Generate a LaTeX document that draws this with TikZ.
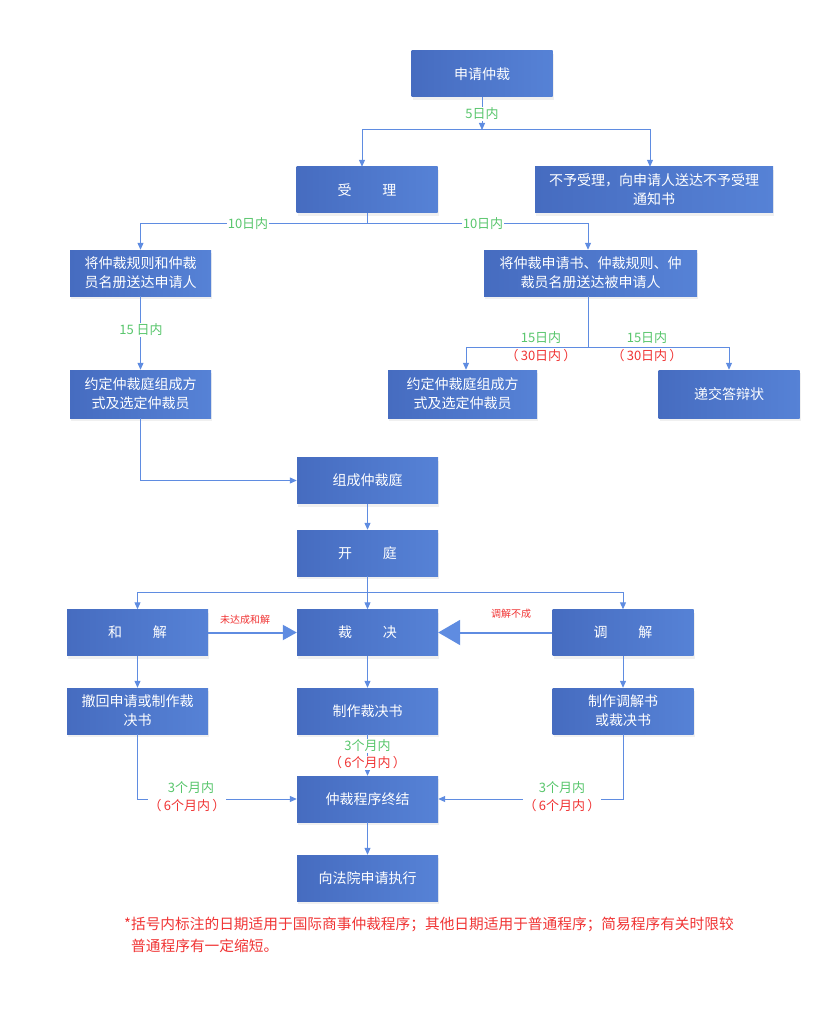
\documentclass[tikz,border=0pt]{standalone}
\usepackage{fontspec}
\newfontfamily\cjk{Noto Sans CJK SC}
\usetikzlibrary{arrows.meta,calc,shadows}
\definecolor{boxblue}{RGB}{70,108,192}
\definecolor{boxblue2}{RGB}{86,130,214}
\definecolor{lineblue}{RGB}{95,140,225}
\definecolor{lgreen}{RGB}{88,198,108}
\definecolor{lred}{RGB}{240,52,52}
\tikzset{
  box/.style={left color=boxblue, right color=boxblue2, text=white, draw=none,
    minimum width=141pt, minimum height=46pt, align=center, inner sep=2pt,
    font=\cjk\fontsize{14}{19}\selectfont,
    drop shadow={opacity=0.12, shadow xshift=1pt, shadow yshift=-3pt}},
  ln/.style={draw=lineblue, line width=1pt},
  arr/.style={ln, -{Triangle[length=7pt,width=6pt]}},
  bigarr/.style={draw=lineblue, line width=2pt, -{Triangle[length=14pt,width=15pt]}},
  hugearr/.style={draw=lineblue, line width=2pt, -{Triangle[length=22pt,width=25pt]}},
  glab/.style={text=lgreen, fill=white, inner sep=1pt, font=\cjk\fontsize{13}{15}\selectfont},
  rlab/.style={text=lred, fill=white, inner sep=1pt, font=\cjk\fontsize{13}{15}\selectfont},
  slab/.style={text=lred, inner sep=1pt, font=\cjk\fontsize{10}{12}\selectfont},
  note/.style={text=lred, anchor=west, inner sep=0pt, font=\cjk\fontsize{14.7}{17}\selectfont}
}
\begin{document}
\begin{tikzpicture}[x=1pt,y=-1pt]
\useasboundingbox (0,0) rectangle (830,1024);
% boxes
\node[box] (shenqing) at (482,74) {申请仲裁};
\node[box] (shouli) at (367,190) {受\hspace{2.2em}理};
\node[box, minimum width=238pt] (buyu) at (654,190) {不予受理，向申请人送达不予受理\\通知书};
\node[box] (songda1) at (140.5,273) {将仲裁规则和仲裁\\员名册送达申请人};
\node[box, minimum width=213pt] (songda2) at (590.5,273) {将仲裁申请书、仲裁规则、仲\\裁员名册送达被申请人};
\node[box, minimum height=48pt] (yueding1) at (140.5,394) {约定仲裁庭组成方\\式及选定仲裁员};
\node[box, minimum height=48pt, minimum width=149pt] (yueding2) at (462.5,394) {约定仲裁庭组成方\\式及选定仲裁员};
\node[box, minimum height=48pt] (dabian) at (729,394) {递交答辩状};
\node[box] (zucheng) at (367.5,480.5) {组成仲裁庭};
\node[box] (kaiting) at (367.5,553) {开\hspace{2.2em}庭};
\node[box] (hejie) at (137.5,632.5) {和\hspace{2.2em}解};
\node[box] (caijue) at (367.5,632.5) {裁\hspace{2.2em}决};
\node[box] (tiaojie) at (623,632.5) {调\hspace{2.2em}解};
\node[box] (chehui) at (137.5,711) {撤回申请或制作裁\\决书};
\node[box] (zhizuo) at (367.5,711) {制作裁决书};
\node[box] (tiaojieshu) at (623,711) {制作调解书\\或裁决书};
\node[box] (zhongjie) at (367.5,799) {仲裁程序终结};
\node[box] (zhixing) at (367.5,878) {向法院申请执行};
% junctions
\coordinate (j1) at (482,130);
\coordinate (j2) at (367,224);
\coordinate (j3) at (588,347);
\coordinate (j4) at (367.5,592);
% connectors
\draw[arr] (shenqing) -- (j1);
\draw[arr] (j1) -| ($(shouli.north)+(-5,0)$);
\draw[arr] (j1) -| ($(buyu.north)+(-4,0)$);
\draw[ln] (shouli) -- (j2);
\draw[arr] (j2) -| (songda1.north);
\draw[arr] (j2) -| ($(songda2.north)+(-2.5,0)$);
\draw[arr] (songda1) -- (yueding1);
\draw[ln] ($(songda2.south)+(-2.5,0)$) -- (j3);
\draw[arr] (j3) -| ($(yueding2.north)+(3.5,0)$);
\draw[arr] (j3) -| (dabian.north);
\draw[arr] (yueding1) |- (zucheng);
\draw[arr] (zucheng) -- (kaiting);
\draw[ln] (kaiting) -- (j4);
\draw[arr] (j4) -| (hejie.north);
\draw[arr] (j4) -- (caijue);
\draw[arr] (j4) -| (tiaojie.north);
\draw[bigarr] (hejie) -- (caijue);
\draw[hugearr] (tiaojie) -- (caijue);
\draw[arr] (hejie) -- (chehui);
\draw[arr] (caijue) -- (zhizuo);
\draw[arr] (tiaojie) -- (tiaojieshu);
\draw[arr] (zhizuo) -- (zhongjie);
\draw[arr] (chehui) |- (zhongjie);
\draw[arr] (tiaojieshu) |- (zhongjie);
\draw[arr] (zhongjie) -- (zhixing);
% labels
\node[glab] (l5) at (482,114) {5日内};
\node[glab] (l10a) at (248,224) {10日内};
\node[glab] (l10b) at (483,224) {10日内};
\node[glab] (l15a) at (141,330) {15 日内};
\node[glab] (l15b) at (541,338) {15日内};
\node[rlab] (l30b) at (541,356) {（\,30日内\,）};
\node[glab] (l15c) at (647,338) {15日内};
\node[rlab] (l30c) at (647,356) {（\,30日内\,）};
\node[slab] (lwd) at (245,620) {未达成和解};
\node[slab] (ltj) at (511,614) {调解不成};
\node[glab] (l3m) at (367.5,746) {3个月内};
\node[rlab] (l6m) at (367.5,763) {（\,6个月内\,）};
\node[glab] (l3l) at (191,788) {3个月内};
\node[rlab] (l6l) at (187,806) {（\,6个月内\,）};
\node[glab] (l3r) at (562,788) {3个月内};
\node[rlab] (l6r) at (562,806) {（\,6个月内\,）};
% footnote
\node[note] (n1) at (124,924) {*括号内标注的日期适用于国际商事仲裁程序；其他日期适用于普通程序；简易程序有关时限较};
\node[note] (n2) at (131,946) {普通程序有一定缩短。};
\end{tikzpicture}
\end{document}
